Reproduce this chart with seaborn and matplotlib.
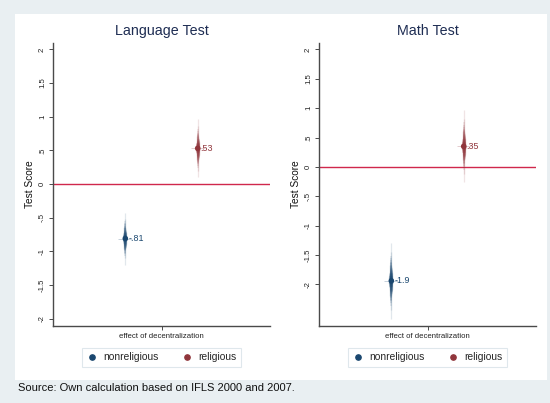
import numpy as np
import pandas as pd
import seaborn as sns
import matplotlib.pyplot as plt
from matplotlib.lines import Line2D
from matplotlib.patches import Rectangle
from statistics import NormalDist

# Estimated effect of decentralization on test scores, by group
tests = ["Language Test", "Math Test"]
groups = ["nonreligious", "religious"]
lang_coef = [-0.81, 0.53]
lang_se = [0.15, 0.167]
math_coef = [-1.94, 0.35]
math_se = [0.25, 0.237]
y_ticks = [-2, -1.5, -1, -0.5, 0, 0.5, 1, 1.5, 2]
x_label = "effect of decentralization"
source_note = "Source: Own calculation based on IFLS 2000 and 2007."

colors = {"nonreligious": "#1a476f", "religious": "#90353b"}
zero_color = "#d0284c"
bg_color = "#e9eff2"
title_color = "#1e2d53"
axis_color = "#4a4a4a"

sns.set_theme(style="white")
plt.rcParams["font.family"] = ["Liberation Sans", "DejaVu Sans"]


def stata_fmt(v, digits=2):
    s = f"{v:.{digits}g}"
    if s.startswith("0."):
        s = s[1:]
    elif s.startswith("-0."):
        s = "-" + s[2:]
    return s


frames = []
for test, coefs, ses in [(tests[0], lang_coef, lang_se), (tests[1], math_coef, math_se)]:
    frames.append(pd.DataFrame({"test": test, "group": groups,
                                "coef": coefs, "se": ses,
                                "pos": np.arange(len(groups), dtype=float)}))
df = pd.concat(frames, ignore_index=True)

fig = plt.figure(figsize=(5.5, 4.03), dpi=100, facecolor=bg_color)
fig.patches.append(Rectangle((15 / 550, 1 - 380 / 403), 532 / 550, 366 / 403,
                             transform=fig.transFigure, facecolor="white",
                             edgecolor="none", zorder=-10))

ax_specs = [
    (tests[0], [53 / 550, 1 - 326 / 403, 217 / 550, 283 / 403], (-2.11, 2.095)),
    (tests[1], [319 / 550, 1 - 326 / 403, 217 / 550, 283 / 403], (-2.71, 2.11)),
]

# confidence levels used to build the fading interval spikes
levels = np.linspace(0.99, 0.04, 26)
nd = NormalDist()

for test, rect, ylim in ax_specs:
    ax = fig.add_axes(rect)
    ax.set_facecolor("white")
    sub = df[df["test"] == test]

    ax.axhline(0, color=zero_color, lw=1.0, zorder=1)

    for _, row in sub.iterrows():
        c = colors[row["group"]]
        for k, lev in enumerate(levels):
            half = nd.inv_cdf(0.5 + lev / 2) * row["se"]
            lw = 0.9 + 2.6 * k / (len(levels) - 1)
            ax.plot([row["pos"], row["pos"]], [row["coef"] - half, row["coef"] + half],
                    color=c, lw=lw, alpha=0.13, solid_capstyle="butt", zorder=2)
        ax.plot(row["pos"], row["coef"], marker="_", ms=10, mew=0.7,
                color=c, alpha=0.25, zorder=3)
        ax.annotate(stata_fmt(row["coef"]), (row["pos"], row["coef"]),
                    xytext=(2, 0), textcoords="offset points",
                    ha="left", va="center", fontsize=6.4, color=c, zorder=5)

    sns.scatterplot(data=sub, x="pos", y="coef", hue="group", palette=colors,
                    s=16, linewidth=0, ax=ax, legend=False, zorder=4)

    ax.set_xlim(-1, 2)
    ax.set_ylim(*ylim)
    ax.set_xticks([0.5])
    ax.set_xticklabels([x_label], fontsize=5.6, color="#222222")
    ax.set_yticks(y_ticks)
    ax.set_yticklabels([stata_fmt(t) for t in y_ticks], rotation=90,
                       fontsize=5.6, va="center", color="#222222")
    ax.tick_params(axis="both", direction="out", length=3, width=0.7,
                   color=axis_color, pad=2, left=True, bottom=True)
    ax.set_xlabel("")
    ax.set_ylabel("Test Score", fontsize=7.3, color="#111111", labelpad=3)
    ax.set_title(test, fontsize=10.3, color=title_color, pad=6)
    sns.despine(ax=ax)
    for side in ("left", "bottom"):
        ax.spines[side].set_color(axis_color)
        ax.spines[side].set_linewidth(1.0)

    handles = [Line2D([], [], marker="o", ls="none", color=colors[g], ms=3.8)
               for g in groups]
    leg = ax.legend(handles, groups, loc="center", bbox_to_anchor=(0.5, -0.111),
                    ncol=2, fontsize=7.4, frameon=True, fancybox=False,
                    handletextpad=0.6, columnspacing=2.2, handlelength=1.0,
                    borderpad=0.45)
    leg.get_frame().set_edgecolor("#d8e2e8")
    leg.get_frame().set_linewidth(0.8)

fig.text(18 / 550, 1 - 388 / 403, source_note, fontsize=8.0, color="#111111",
         ha="left", va="center")

fig.savefig("out.png", dpi=100, facecolor=bg_color)
